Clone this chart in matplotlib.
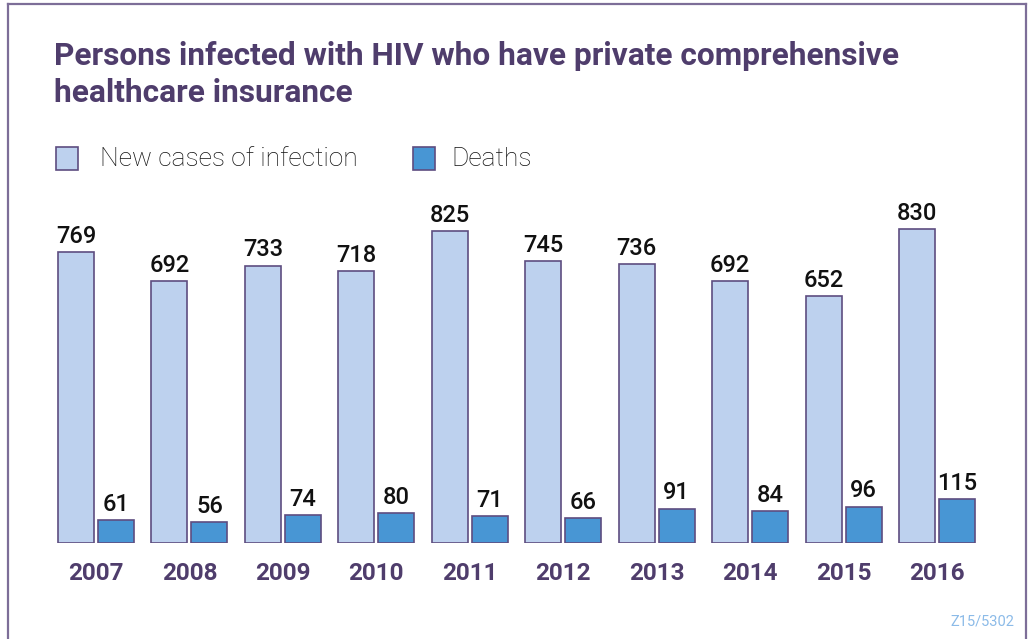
import matplotlib.pyplot as plt
from matplotlib.patches import Rectangle
from matplotlib.lines import Line2D

years = ["2007", "2008", "2009", "2010", "2011", "2012", "2013", "2014", "2015", "2016"]
new_cases = [769, 692, 733, 718, 825, 745, 736, 692, 652, 830]
deaths = [61, 56, 74, 80, 71, 66, 91, 84, 96, 115]

W, H = 1029, 639
PURPLE = "#4f3d6c"
EDGE = "#5e4d80"
LIGHT = "#bdd1ee"
BLUE = "#4896d4"
FRAME = "#7d6e98"

plt.rcParams["font.family"] = ["Roboto", "DejaVu Sans"]

fig = plt.figure(figsize=(W / 100, H / 100), dpi=100)
fig.patch.set_facecolor("white")

def fx(px):
    return px / W

def fy(py):
    return 1 - py / H

# outer frame (open at the bottom)
for xs, ys in [((8, 8), (4, H)), ((8, 1026), (4, 4)), ((1026, 1026), (4, H))]:
    fig.add_artist(Line2D([fx(x) for x in xs], [fy(y) for y in ys],
                          color=FRAME, lw=1.6, transform=fig.transFigure))

# title, two lines
for line, y in [("Persons infected with HIV who have private comprehensive", 56),
                ("healthcare insurance", 93)]:
    fig.text(fx(54), fy(y), line, fontsize=22.8, fontweight="bold", color=PURPLE,
             va="center", ha="left")

# legend
for x0, col, label, tx in [(56, LIGHT, "New cases of infection", 100), (413, BLUE, "Deaths", 451)]:
    fig.add_artist(Rectangle((fx(x0), fy(170)), 22 / W, 23 / H, transform=fig.transFigure,
                             facecolor=col, edgecolor=EDGE, lw=1.2))
    fig.text(fx(tx), fy(159), label, fontsize=19, fontweight="light", color="#111111",
             va="center", ha="left")

# bar area: group i is centred on x = i, spaced 93.44 px apart
spacing = 93.44
c0 = 96
ax_left = c0 - 0.5 * spacing
ax_width = 10 * spacing
scale = 0.3785  # px per case
ymax = 900
ax_bottom = H - 543
ax = fig.add_axes([fx(ax_left), ax_bottom / H, ax_width / W, ymax * scale / H])
ax.set_xlim(-0.5, 9.5)
ax.set_ylim(0, ymax)
ax.axis("off")

bw = 36 / spacing
off = 20 / spacing
xs = list(range(len(years)))
b1 = ax.bar([x - off for x in xs], new_cases, width=bw, color=LIGHT, edgecolor=EDGE, linewidth=1.2)
b2 = ax.bar([x + off for x in xs], deaths, width=bw, color=BLUE, edgecolor=EDGE, linewidth=1.2)

for bars, vals in [(b1, new_cases), (b2, deaths)]:
    for rect, v in zip(bars, vals):
        ax.annotate(str(v), (rect.get_x() + rect.get_width() / 2, v), xytext=(0, 3),
                    textcoords="offset points", ha="center", va="bottom",
                    fontsize=17, fontweight="medium", color="#111111")

for x, yr in zip(xs, years):
    ax.annotate(yr, (x, 0), xytext=(0, -30), textcoords="offset pixels",
                ha="center", va="center", fontsize=17.5, fontweight="bold", color=PURPLE)

fig.text(fx(1014), fy(621), "Z15/5302", fontsize=10.5, color="#8cbbe8", ha="right", va="center")

fig.savefig("out.png", dpi=100)
